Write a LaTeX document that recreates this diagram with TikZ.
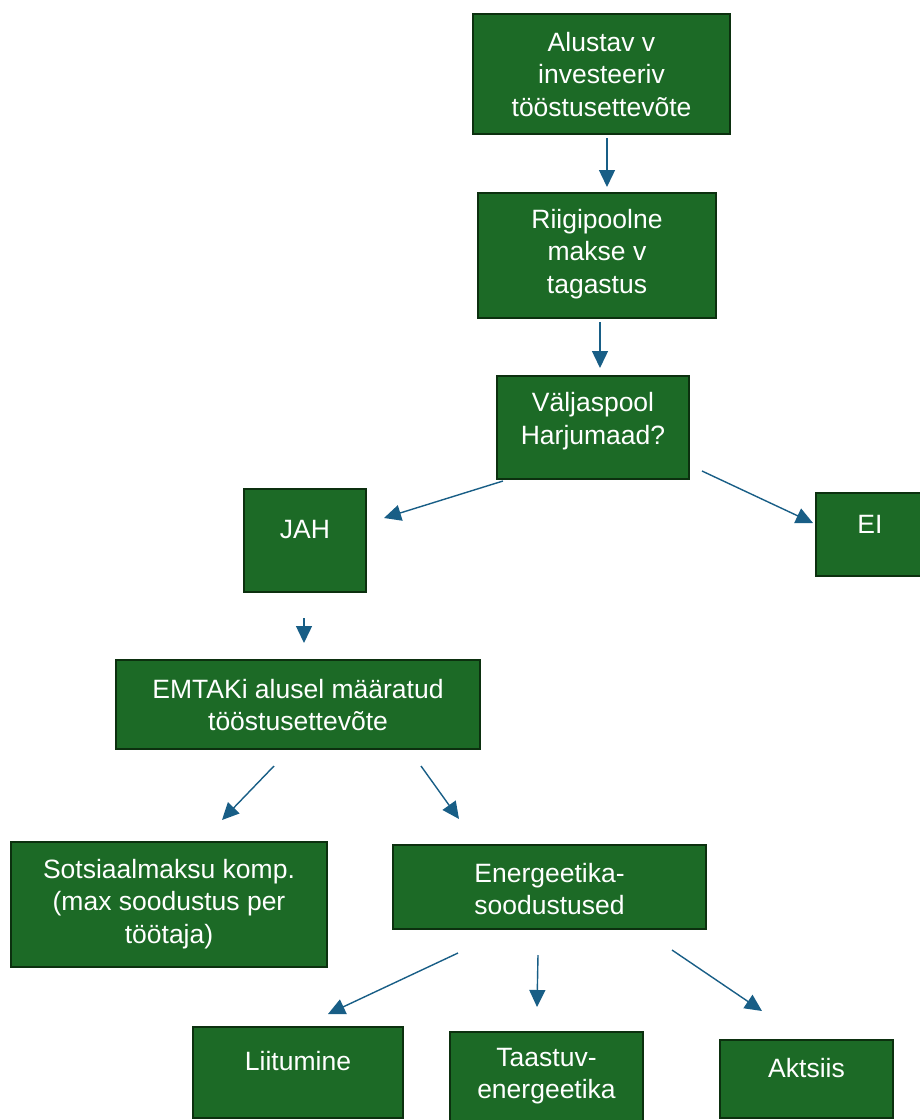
\documentclass[tikz,border=0pt]{standalone}
\usepackage{fontspec}
\setmainfont{Liberation Sans}
\usetikzlibrary{arrows.meta}

\definecolor{boxgreen}{RGB}{28,106,38}
\definecolor{boxedge}{RGB}{12,48,15}
\definecolor{arrowblue}{RGB}{24,94,134}

\tikzset{
  greenbox/.style={rectangle, draw=boxedge, fill=boxgreen, line width=2.8pt, inner sep=0pt},
  boxtext/.style={text=white, font=\fontsize{26.5}{32.5}\selectfont, align=center, inner sep=0pt},
  flow/.style={draw=arrowblue, line width=1.4pt, -{Triangle[length=17pt,width=16pt]}}
}

\begin{document}
\begin{tikzpicture}[x=1pt,y=-1pt]

% Page size, same as the reference.
\useasboundingbox (0,0) rectangle (920,1120);

% Top of the tree.
\node[greenbox, minimum width=257, minimum height=120] (start) at (601.5,74) {};
\node[boxtext] (starttxt) at (601.5,74.5) {Alustav v\\investeeriv\\tööstusettevõte};

\node[greenbox, minimum width=238, minimum height=125] (refund) at (597,255.5) {};
\node[boxtext] (refundtxt) at (597,254) {Riigipoolne\\makse v\\tagastus};

% The question box.
\node[greenbox, minimum width=192, minimum height=103] (region) at (593,427.5) {};
\node[boxtext] (regiontxt) at (593,421) {Väljaspool\\Harjumaad?};

% Answers: text sits high in the box.
\node[greenbox, minimum width=122, minimum height=103] (jah) at (305,540.5) {};
\node[boxtext] (jahtxt) at (305,530) {JAH};

\node[greenbox, minimum width=108, minimum height=83] (ei) at (870,534.5) {};
\node[boxtext] (eitxt) at (870,524) {EI};

% Second level.
\node[greenbox, minimum width=364, minimum height=89] (emtak) at (298,704.5) {};
\node[boxtext] (emtaktxt) at (298,705) {EMTAKi alusel määratud\\tööstusettevõte};

\node[greenbox, minimum width=316, minimum height=125] (social) at (169,904.5) {};
\node[boxtext] (socialtxt) at (169,904) {Sotsiaalmaksu komp.\\(max soodustus per\\töötaja)};

\node[greenbox, minimum width=313, minimum height=84] (energy) at (549.5,887) {};
\node[boxtext] (energytxt) at (549.5,889) {Energeetika-\\soodustused};

% Bottom row, cut by the page edge.
\node[greenbox, minimum width=210, minimum height=91] (joining) at (298,1072.5) {};
\node[boxtext] (joiningtxt) at (298,1061) {Liitumine};

\node[greenbox, minimum width=193, minimum height=92] (renew) at (546.5,1078) {};
\node[boxtext] (renewtxt) at (546.5,1076) {Taastuv-\\energeetika};

\node[greenbox, minimum width=173, minimum height=78] (excise) at (806.5,1079) {};
\node[boxtext] (excisetxt) at (806.5,1068) {Aktsiis};

% Arrow ends float between the boxes.
\coordinate (start-out) at (607,138);   \coordinate (refund-in) at (607,187);
\coordinate (refund-out) at (600,322);  \coordinate (region-in) at (600,368);
\coordinate (region-l) at (503,481);    \coordinate (jah-in) at (384,518);
\coordinate (region-r) at (702,471);    \coordinate (ei-in) at (813,523);
\coordinate (jah-out) at (304,618);     \coordinate (emtak-in) at (304,643);
\coordinate (emtak-l) at (274,766);     \coordinate (social-in) at (222,820);
\coordinate (emtak-r) at (421,766);     \coordinate (energy-in) at (459,819);
\coordinate (energy-l) at (458,953);    \coordinate (joining-in) at (328,1014);
\coordinate (energy-m) at (538,955);    \coordinate (renew-in) at (537,1007);
\coordinate (energy-r) at (672,950);    \coordinate (excise-in) at (762,1011);

% Loop for each arrow.
\foreach \a/\b in {start-out/refund-in, refund-out/region-in,
    region-l/jah-in, region-r/ei-in, jah-out/emtak-in,
    emtak-l/social-in, emtak-r/energy-in,
    energy-l/joining-in, energy-m/renew-in, energy-r/excise-in} {
    \draw[flow] (\a) -- (\b);
}

\end{tikzpicture}
\end{document}
